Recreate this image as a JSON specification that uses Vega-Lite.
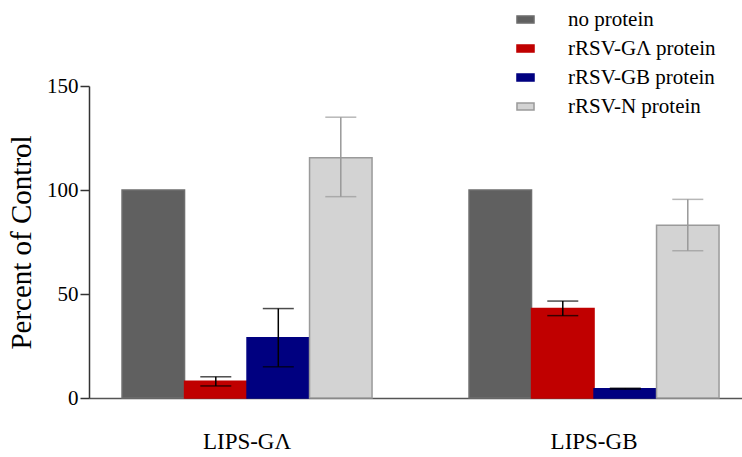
{
  "$schema": "https://vega.github.io/schema/vega-lite/v6.json",
  "autosize": {"type": "none"},
  "padding": {"left": 89, "top": 86, "right": 0, "bottom": 59},
  "width": 653,
  "height": 312,
  "background": "white",
  "config": {
    "view": {"stroke": null},
    "font": "Liberation Serif",
    "axis": {"labelFont": "Liberation Serif", "titleFont": "Liberation Serif"},
    "legend": {"labelFont": "Liberation Serif", "titleFont": "Liberation Serif"}
  },
  "data": {
    "values": [
      {"group": "LIPS-GΛ", "protein": "no protein", "value": 100, "lo": null, "hi": null},
      {"group": "LIPS-GΛ", "protein": "rRSV-GΛ protein", "value": 8, "lo": 5.8, "hi": 10.2},
      {"group": "LIPS-GΛ", "protein": "rRSV-GB protein", "value": 29, "lo": 15, "hi": 43},
      {"group": "LIPS-GΛ", "protein": "rRSV-N protein", "value": 115.5, "lo": 96.8, "hi": 135},
      {"group": "LIPS-GB", "protein": "no protein", "value": 100, "lo": null, "hi": null},
      {"group": "LIPS-GB", "protein": "rRSV-GΛ protein", "value": 43, "lo": 39.6, "hi": 46.6},
      {"group": "LIPS-GB", "protein": "rRSV-GB protein", "value": 4.4, "lo": 4.2, "hi": 4.7},
      {"group": "LIPS-GB", "protein": "rRSV-N protein", "value": 83, "lo": 70.8, "hi": 95.5}
    ]
  },
  "encoding": {
    "x": {
      "field": "group",
      "type": "nominal",
      "sort": null,
      "scale": {"paddingInner": 0.2795, "paddingOuter": 0.0807, "align": 0.59},
      "axis": {
        "title": null,
        "labelAngle": 0,
        "labelFontSize": 23,
        "labelColor": "black",
        "labelPadding": 32,
        "ticks": false,
        "domainColor": "#555",
        "domainWidth": 1.5
      }
    },
    "xOffset": {
      "field": "protein",
      "type": "nominal",
      "sort": ["no protein", "rRSV-GΛ protein", "rRSV-GB protein", "rRSV-N protein"],
      "scale": {"paddingInner": 0, "paddingOuter": 0}
    }
  },
  "layer": [
    {
      "mark": {"type": "bar", "strokeWidth": 1.5},
      "encoding": {
        "y": {
          "field": "value",
          "type": "quantitative",
          "scale": {"domain": [0, 150], "nice": false},
          "axis": {
            "title": "Percent of Control",
            "titleFontSize": 29,
            "titleFontWeight": "normal",
            "titleColor": "black",
            "titlePadding": 10,
            "values": [0, 50, 100, 150],
            "grid": false,
            "labelFontSize": 21,
            "labelColor": "black",
            "labelPadding": 2,
            "tickSize": 9,
            "tickColor": "#333",
            "tickWidth": 1.5,
            "domainColor": "#333",
            "domainWidth": 1.5
          }
        },
        "color": {
          "field": "protein",
          "type": "nominal",
          "scale": {
            "domain": ["no protein", "rRSV-GΛ protein", "rRSV-GB protein", "rRSV-N protein"],
            "range": ["#606060", "#c00000", "#000080", "#d3d3d3"]
          },
          "legend": {
            "title": null,
            "orient": "none",
            "legendX": 426,
            "legendY": -77,
            "symbolType": "M-1.55,-0.65L1.55,-0.65L1.55,0.65L-1.55,0.65Z",
            "symbolSize": 121,
            "symbolStrokeWidth": 1.5,
            "labelFontSize": 21,
            "labelColor": "black",
            "labelOffset": 32,
            "rowPadding": 7,
            "symbolOpacity": 1
          }
        },
        "stroke": {
          "field": "protein",
          "type": "nominal",
          "scale": {
            "domain": ["no protein", "rRSV-GΛ protein", "rRSV-GB protein", "rRSV-N protein"],
            "range": ["#6e6e6e", "#c00000", "#000080", "#9a9a9a"]
          },
          "legend": {
            "title": null,
            "orient": "none",
            "legendX": 426,
            "legendY": -77,
            "symbolType": "M-1.55,-0.65L1.55,-0.65L1.55,0.65L-1.55,0.65Z",
            "symbolSize": 121,
            "symbolStrokeWidth": 1.5,
            "labelFontSize": 21,
            "labelColor": "black",
            "labelOffset": 32,
            "rowPadding": 7,
            "symbolOpacity": 1
          }
        }
      }
    },
    {
      "transform": [{"filter": "datum.lo != null"}],
      "mark": {"type": "rule", "strokeWidth": 1.5},
      "encoding": {
        "y": {"field": "lo", "type": "quantitative"},
        "y2": {"field": "hi"},
        "stroke": {"condition": {"test": "datum.protein === 'rRSV-N protein'", "value": "#999"}, "value": "black"}
      }
    },
    {
      "transform": [{"filter": "datum.lo != null"}],
      "mark": {"type": "tick", "thickness": 1.5, "size": 31},
      "encoding": {
        "y": {"field": "lo", "type": "quantitative"},
        "color": {"condition": {"test": "datum.protein === 'rRSV-N protein'", "value": "#999"}, "value": "black"}
      }
    },
    {
      "transform": [{"filter": "datum.lo != null"}],
      "mark": {"type": "tick", "thickness": 1.5, "size": 31},
      "encoding": {
        "y": {"field": "hi", "type": "quantitative"},
        "color": {"condition": {"test": "datum.protein === 'rRSV-N protein'", "value": "#999"}, "value": "black"}
      }
    }
  ]
}
